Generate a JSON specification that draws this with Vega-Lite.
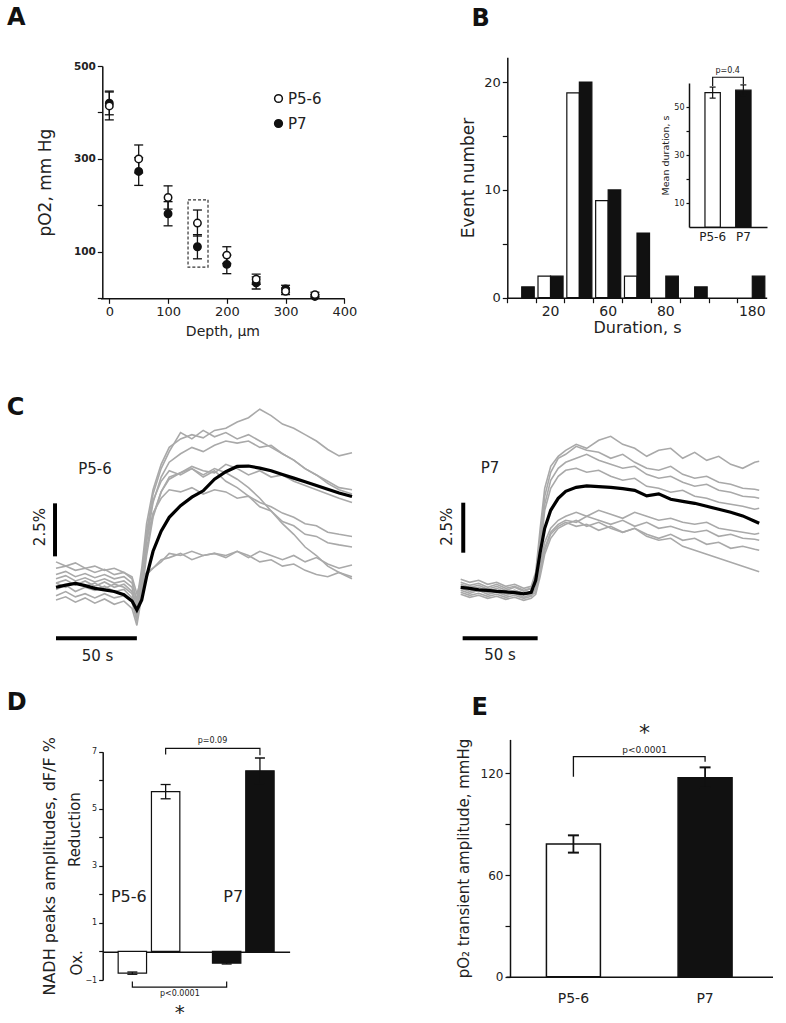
{
"$schema": "https://vega.github.io/schema/vega-lite/v6.json",
"width": 786, "height": 1023, "autosize": "none", "padding": 0, "background": "white",
"config": {
  "font": "DejaVu Sans",
  "view": {"stroke": null},
  "axis": {"grid": false, "domainColor": "#111", "tickColor": "#111", "labelColor": "#222", "titleColor": "#222", "titleFontWeight": "normal", "domainWidth": 1.5, "tickWidth": 1.2, "labelFont": "DejaVu Sans", "titleFont": "DejaVu Sans"},
  "text": {"color": "#222", "font": "DejaVu Sans"}
},
"datasets": {
  "pO2": [
    {"depth":0,"group":"P7","mean":420,"lo":395,"hi":444},
    {"depth":0,"group":"P5-6","mean":414,"lo":384,"hi":446},
    {"depth":50,"group":"P7","mean":273,"lo":243,"hi":303},
    {"depth":50,"group":"P5-6","mean":300,"lo":270,"hi":330},
    {"depth":100,"group":"P7","mean":182,"lo":156,"hi":208},
    {"depth":100,"group":"P5-6","mean":217,"lo":192,"hi":242},
    {"depth":150,"group":"P7","mean":111,"lo":85,"hi":137},
    {"depth":150,"group":"P5-6","mean":162,"lo":134,"hi":190},
    {"depth":200,"group":"P7","mean":73,"lo":53,"hi":93},
    {"depth":200,"group":"P5-6","mean":93,"lo":75,"hi":111},
    {"depth":250,"group":"P7","mean":33,"lo":20,"hi":46},
    {"depth":250,"group":"P5-6","mean":41,"lo":30,"hi":52},
    {"depth":300,"group":"P7","mean":20,"lo":12,"hi":28},
    {"depth":300,"group":"P5-6","mean":15,"lo":8,"hi":22},
    {"depth":350,"group":"P7","mean":4,"lo":0,"hi":8},
    {"depth":350,"group":"P5-6","mean":8,"lo":3,"hi":13}
  ],
  "hist": [
    {"bin":"10","grp":"P7","n":1},
    {"bin":"20","grp":"P5-6","n":2},{"bin":"20","grp":"P7","n":2},
    {"bin":"40","grp":"P5-6","n":19},{"bin":"40","grp":"P7","n":20},
    {"bin":"60","grp":"P5-6","n":9},{"bin":"60","grp":"P7","n":10},
    {"bin":"70","grp":"P5-6","n":2},{"bin":"70","grp":"P7","n":6},
    {"bin":"80","grp":"P7","n":2},
    {"bin":"100","grp":"P7","n":1},
    {"bin":"180","grp":"P7","n":2}
  ],
  "inset": [
    {"grp":"P5-6","val":56,"lo":53.7,"hi":58.3},
    {"grp":"P7","val":57,"lo":54.8,"hi":59.2}
  ],
  "insetBracket": [
    {"i":0,"grp":"P5-6","val":58.8},{"i":1,"grp":"P5-6","val":62.4},{"i":2,"grp":"P7","val":62.4},{"i":3,"grp":"P7","val":59.5}
  ],
  "c1": [
    {"t":0,"m":0,"g1":0.6,"g2":0.2,"g3":-0.1,"g4":-0.4,"g5":0.9,"g6":0.4,"g7":-0.6,"g8":0.2,"g9":1.2},
    {"t":6,"m":0.1,"g1":0.75,"g2":0.35,"g3":0.1,"g4":-0.2,"g5":1.0,"g6":0.55,"g7":-0.45,"g8":0.0,"g9":1.0},
    {"t":12,"m":0.18,"g1":0.5,"g2":0.1,"g3":-0.2,"g4":-0.45,"g5":0.8,"g6":0.3,"g7":-0.7,"g8":0.25,"g9":1.15},
    {"t":18,"m":0.08,"g1":0.65,"g2":0.3,"g3":0.0,"g4":-0.3,"g5":0.9,"g6":0.45,"g7":-0.5,"g8":0.05,"g9":0.9},
    {"t":24,"m":-0.05,"g1":0.45,"g2":0.05,"g3":-0.15,"g4":-0.5,"g5":0.7,"g6":0.25,"g7":-0.75,"g8":0.2,"g9":1.0},
    {"t":30,"m":-0.12,"g1":0.6,"g2":0.25,"g3":0.05,"g4":-0.3,"g5":0.85,"g6":0.4,"g7":-0.55,"g8":-0.05,"g9":0.8},
    {"t":36,"m":-0.2,"g1":0.4,"g2":0.0,"g3":-0.2,"g4":-0.5,"g5":0.6,"g6":0.2,"g7":-0.8,"g8":0.15,"g9":0.9},
    {"t":42,"m":-0.35,"g1":0.5,"g2":0.15,"g3":-0.1,"g4":-0.4,"g5":0.7,"g6":0.3,"g7":-0.65,"g8":0.0,"g9":0.7},
    {"t":47,"m":-0.65,"g1":0.2,"g2":-0.2,"g3":-0.5,"g4":-0.7,"g5":0.4,"g6":0.0,"g7":-1.0,"g8":-0.3,"g9":0.5},
    {"t":50,"m":-1.07,"g1":-0.6,"g2":-1.2,"g3":-1.4,"g4":-1.6,"g5":-0.8,"g6":-1.0,"g7":-1.8,"g8":-1.2,"g9":-0.3},
    {"t":53,"m":-0.6,"g1":0.9,"g2":0.5,"g3":0.2,"g4":0.0,"g5":0.6,"g6":0.4,"g7":-0.4,"g8":0.0,"g9":0.4},
    {"t":56,"m":0.5,"g1":3.0,"g2":2.6,"g3":2.2,"g4":1.8,"g5":2.2,"g6":2.5,"g7":1.5,"g8":0.6,"g9":0.7},
    {"t":60,"m":1.7,"g1":4.6,"g2":4.4,"g3":4.0,"g4":3.4,"g5":3.5,"g6":4.1,"g7":3.3,"g8":0.9,"g9":0.9},
    {"t":65,"m":2.65,"g1":5.8,"g2":5.6,"g3":5.2,"g4":4.5,"g5":4.2,"g6":5.0,"g7":4.5,"g8":1.2,"g9":1.3},
    {"t":70,"m":3.3,"g1":6.6,"g2":6.4,"g3":5.9,"g4":5.1,"g5":4.6,"g6":5.5,"g7":5.2,"g8":1.6,"g9":1.4},
    {"t":77,"m":3.85,"g1":7.0,"g2":7.3,"g3":6.3,"g4":5.4,"g5":4.5,"g6":5.3,"g7":5.4,"g8":1.5,"g9":1.6},
    {"t":84,"m":4.25,"g1":7.2,"g2":7.0,"g3":6.6,"g4":5.7,"g5":4.7,"g6":5.6,"g7":5.6,"g8":1.7,"g9":1.3},
    {"t":91,"m":4.55,"g1":7.05,"g2":7.4,"g3":6.4,"g4":5.5,"g5":4.4,"g6":5.2,"g7":5.3,"g8":1.5,"g9":1.5},
    {"t":98,"m":5.1,"g1":7.4,"g2":7.1,"g3":6.7,"g4":5.4,"g5":4.6,"g6":5.5,"g7":5.6,"g8":1.6,"g9":1.6},
    {"t":105,"m":5.45,"g1":7.5,"g2":7.3,"g3":6.9,"g4":5.8,"g5":4.5,"g6":5.0,"g7":5.4,"g8":1.4,"g9":1.5},
    {"t":112,"m":5.7,"g1":7.8,"g2":7.0,"g3":6.8,"g4":5.6,"g5":4.2,"g6":4.7,"g7":5.1,"g8":1.7,"g9":1.7},
    {"t":119,"m":5.72,"g1":8.0,"g2":7.2,"g3":6.9,"g4":5.3,"g5":4.3,"g6":4.3,"g7":4.7,"g8":1.5,"g9":1.4},
    {"t":126,"m":5.62,"g1":8.4,"g2":6.9,"g3":6.6,"g4":5.5,"g5":4.0,"g6":3.8,"g7":4.2,"g8":1.2,"g9":1.7},
    {"t":133,"m":5.5,"g1":8.1,"g2":6.6,"g3":6.7,"g4":5.2,"g5":3.8,"g6":3.6,"g7":3.6,"g8":1.3,"g9":1.5},
    {"t":140,"m":5.32,"g1":7.7,"g2":6.3,"g3":6.3,"g4":5.3,"g5":3.5,"g6":3.1,"g7":3.0,"g8":1.0,"g9":1.3},
    {"t":147,"m":5.15,"g1":7.5,"g2":6.0,"g3":6.0,"g4":5.0,"g5":3.3,"g6":2.9,"g7":2.5,"g8":1.1,"g9":1.5},
    {"t":154,"m":4.98,"g1":7.2,"g2":5.6,"g3":5.6,"g4":4.8,"g5":3.0,"g6":2.5,"g7":1.9,"g8":0.8,"g9":1.2},
    {"t":161,"m":4.8,"g1":6.9,"g2":5.3,"g3":5.3,"g4":4.6,"g5":2.9,"g6":2.4,"g7":1.5,"g8":0.6,"g9":1.4},
    {"t":168,"m":4.62,"g1":6.5,"g2":5.0,"g3":4.9,"g4":4.4,"g5":2.6,"g6":2.1,"g7":1.0,"g8":0.5,"g9":1.1},
    {"t":175,"m":4.45,"g1":6.2,"g2":4.7,"g3":4.6,"g4":4.2,"g5":2.5,"g6":2.0,"g7":0.7,"g8":0.7,"g9":0.9},
    {"t":183,"m":4.28,"g1":6.35,"g2":4.6,"g3":4.4,"g4":4.0,"g5":2.4,"g6":1.9,"g7":0.5,"g8":0.4,"g9":1.05}
  ],
  "c2": [
    {"t":0,"m":0.05,"h1":0.45,"h2":0.2,"h3":0.0,"h4":-0.2,"h5":0.3,"h6":-0.1,"h7":0.1,"h8":-0.3},
    {"t":6,"m":0.0,"h1":0.3,"h2":0.05,"h3":-0.15,"h4":-0.35,"h5":0.15,"h6":-0.25,"h7":-0.05,"h8":-0.45},
    {"t":12,"m":-0.08,"h1":0.4,"h2":0.15,"h3":-0.05,"h4":-0.25,"h5":0.25,"h6":-0.1,"h7":0.05,"h8":-0.35},
    {"t":18,"m":-0.1,"h1":0.2,"h2":-0.05,"h3":-0.2,"h4":-0.4,"h5":0.05,"h6":-0.3,"h7":-0.15,"h8":-0.5},
    {"t":24,"m":-0.15,"h1":0.3,"h2":0.1,"h3":-0.1,"h4":-0.3,"h5":0.2,"h6":-0.2,"h7":0.0,"h8":-0.4},
    {"t":30,"m":-0.18,"h1":0.1,"h2":-0.1,"h3":-0.25,"h4":-0.45,"h5":0.0,"h6":-0.35,"h7":-0.2,"h8":-0.55},
    {"t":36,"m":-0.22,"h1":0.2,"h2":0.05,"h3":-0.1,"h4":-0.35,"h5":0.1,"h6":-0.25,"h7":-0.1,"h8":-0.45},
    {"t":42,"m":-0.28,"h1":0.0,"h2":-0.15,"h3":-0.3,"h4":-0.5,"h5":-0.1,"h6":-0.45,"h7":-0.25,"h8":-0.6},
    {"t":47,"m":-0.2,"h1":0.1,"h2":0.0,"h3":-0.15,"h4":-0.4,"h5":0.0,"h6":-0.3,"h7":-0.35,"h8":-0.5},
    {"t":50,"m":0.4,"h1":0.8,"h2":0.6,"h3":0.3,"h4":0.0,"h5":0.2,"h6":0.0,"h7":-0.2,"h8":-0.3},
    {"t":53,"m":1.8,"h1":3.0,"h2":2.6,"h3":2.2,"h4":1.8,"h5":1.2,"h6":1.0,"h7":0.8,"h8":0.6},
    {"t":56,"m":3.0,"h1":5.0,"h2":4.6,"h3":4.2,"h4":3.9,"h5":2.3,"h6":2.0,"h7":1.9,"h8":1.7},
    {"t":60,"m":3.9,"h1":6.1,"h2":5.8,"h3":5.4,"h4":5.0,"h5":3.0,"h6":2.8,"h7":2.7,"h8":2.5},
    {"t":65,"m":4.5,"h1":6.6,"h2":6.5,"h3":6.0,"h4":5.6,"h5":3.4,"h6":3.2,"h7":3.1,"h8":3.0},
    {"t":70,"m":4.85,"h1":6.9,"h2":6.7,"h3":6.3,"h4":5.9,"h5":3.6,"h6":3.4,"h7":3.3,"h8":3.2},
    {"t":77,"m":5.05,"h1":7.2,"h2":7.1,"h3":6.5,"h4":6.0,"h5":3.8,"h6":3.3,"h7":3.1,"h8":3.4},
    {"t":84,"m":5.12,"h1":7.0,"h2":6.9,"h3":6.7,"h4":5.8,"h5":3.6,"h6":3.6,"h7":3.2,"h8":3.1},
    {"t":92,"m":5.08,"h1":7.4,"h2":6.8,"h3":6.4,"h4":5.9,"h5":3.9,"h6":3.4,"h7":2.9,"h8":3.3},
    {"t":100,"m":5.05,"h1":7.6,"h2":6.5,"h3":6.2,"h4":5.6,"h5":3.7,"h6":3.2,"h7":3.1,"h8":3.0},
    {"t":108,"m":4.98,"h1":7.2,"h2":6.7,"h3":6.0,"h4":5.4,"h5":3.5,"h6":3.4,"h7":2.8,"h8":2.8},
    {"t":116,"m":4.9,"h1":7.0,"h2":6.3,"h3":6.1,"h4":5.5,"h5":3.8,"h6":3.1,"h7":3.0,"h8":3.0},
    {"t":124,"m":4.62,"h1":6.6,"h2":6.0,"h3":5.7,"h4":5.1,"h5":3.6,"h6":3.3,"h7":2.7,"h8":2.6},
    {"t":132,"m":4.72,"h1":6.9,"h2":5.9,"h3":5.5,"h4":5.0,"h5":3.4,"h6":3.0,"h7":2.5,"h8":2.4},
    {"t":140,"m":4.45,"h1":7.0,"h2":6.1,"h3":5.6,"h4":4.8,"h5":3.5,"h6":3.1,"h7":2.7,"h8":2.5},
    {"t":148,"m":4.35,"h1":6.5,"h2":5.7,"h3":5.3,"h4":4.9,"h5":3.3,"h6":2.9,"h7":2.4,"h8":2.1},
    {"t":156,"m":4.25,"h1":6.8,"h2":5.5,"h3":5.1,"h4":4.6,"h5":3.2,"h6":2.8,"h7":2.5,"h8":1.9},
    {"t":164,"m":4.1,"h1":6.4,"h2":5.6,"h3":5.2,"h4":4.5,"h5":3.3,"h6":2.9,"h7":2.2,"h8":1.7},
    {"t":172,"m":3.95,"h1":6.6,"h2":5.3,"h3":4.9,"h4":4.3,"h5":3.0,"h6":2.6,"h7":2.3,"h8":1.5},
    {"t":180,"m":3.8,"h1":6.2,"h2":5.2,"h3":4.8,"h4":4.2,"h5":2.9,"h6":2.7,"h7":2.0,"h8":1.3},
    {"t":188,"m":3.62,"h1":6.0,"h2":5.0,"h3":4.6,"h4":4.1,"h5":2.8,"h6":2.5,"h7":2.1,"h8":1.1},
    {"t":196,"m":3.35,"h1":6.3,"h2":4.95,"h3":4.55,"h4":3.95,"h5":2.7,"h6":2.45,"h7":1.95,"h8":0.9},
    {"t":199,"m":3.25,"h1":6.35,"h2":4.9,"h3":4.5,"h4":4.0,"h5":2.75,"h6":2.4,"h7":1.9,"h8":0.83}
  ],
  "nadh": [
    {"grp":"P5-6","kind":"Ox","val":-0.76,"lo":-0.8,"hi":-0.72},
    {"grp":"P5-6","kind":"Red","val":5.6,"lo":5.35,"hi":5.85},
    {"grp":"P7","kind":"Ox","val":-0.41,"lo":-0.44,"hi":-0.38},
    {"grp":"P7","kind":"Red","val":6.33,"lo":5.88,"hi":6.78}
  ],
  "nadhBracket": [
    {"b":"top","i":0,"grp":"P5-6","kind":"Red","val":6.9},
    {"b":"top","i":1,"grp":"P5-6","kind":"Red","val":7.12},
    {"b":"top","i":2,"grp":"P7","kind":"Red","val":7.12},
    {"b":"top","i":3,"grp":"P7","kind":"Red","val":6.88},
    {"b":"bot","i":0,"grp":"P5-6","kind":"Ox","val":-1.05},
    {"b":"bot","i":1,"grp":"P5-6","kind":"Ox","val":-1.25},
    {"b":"bot","i":2,"grp":"P7","kind":"Ox","val":-1.25},
    {"b":"bot","i":3,"grp":"P7","kind":"Ox","val":-1.05}
  ],
  "amp": [
    {"grp":"P5-6","val":78.3,"lo":73.2,"hi":83.4},
    {"grp":"P7","val":117.4,"lo":111.5,"hi":123.5}
  ],
  "ampBracket": [
    {"i":0,"grp":"P5-6","val":118},{"i":1,"grp":"P5-6","val":129.8},{"i":2,"grp":"P7","val":129.8},{"i":3,"grp":"P7","val":126.8}
  ],
  "letters": [
    {"letter":"A","fx":0.009,"fy":0.0176},
    {"letter":"B","fx":0.6,"fy":0.0186},
    {"letter":"C","fx":0.0085,"fy":0.3988},
    {"letter":"D","fx":0.0085,"fy":0.6872},
    {"letter":"E","fx":0.6,"fy":0.6916}
  ]
},
"layer": [
  {
    "data": {"name": "pO2"},
    "encoding": {
      "x": {"field":"depth","type":"quantitative","scale":{"domain":[-15,400],"range":[100.5,344.3],"nice":false,"zero":false},
            "axis":{"orient":"bottom","offset":-724.7,"values":[0,100,200,300,400],"title":"Depth, μm","titleFontSize":14,"titlePadding":6,"labelFontSize":13,"labelFlush":false,"tickSize":5,"labelPadding":2}},
      "y": {"field":"mean","type":"quantitative","scale":{"domain":[0,500],"range":[298.3,66],"nice":false,"zero":false},
            "axis":{"orient":"left","offset":-102.3,"values":[0,100,200,300,400,500],"labelExpr":"datum.value % 200 == 100 ? datum.label : ''","title":"pO2, mm Hg","titleFontSize":17,"titlePadding":19,"labelFontSize":10.5,"labelFontWeight":"bold","tickSize":5}}
    },
    "layer": [
      {"mark":{"type":"rule","color":"#111","strokeWidth":1.3},
       "encoding":{"y":{"field":"lo","type":"quantitative"},"y2":{"field":"hi"}}},
      {"mark":{"type":"tick","orient":"horizontal","size":9,"thickness":1.3,"color":"#111","opacity":1},
       "encoding":{"y":{"field":"lo","type":"quantitative"}}},
      {"mark":{"type":"tick","orient":"horizontal","size":9,"thickness":1.3,"color":"#111","opacity":1},
       "encoding":{"y":{"field":"hi","type":"quantitative"}}},
      {"mark":{"type":"point","filled":true,"size":55,"stroke":"#111","strokeWidth":1.5,"opacity":1},
       "encoding":{"fill":{"field":"group","type":"nominal","scale":{"domain":["P5-6","P7"],"range":["white","#111"]},
         "legend":{"orient":"none","legendX":271,"legendY":91,"title":null,"labelFontSize":15,"labelColor":"#222","symbolType":"circle","symbolSize":60,"symbolStrokeColor":"#111","symbolStrokeWidth":1.5,"rowPadding":9,"labelOffset":2}}}},
      {"data":{"values":[{"x1":134,"x2":168,"y1":67,"y2":212}]},
       "mark":{"type":"rect","fill":null,"stroke":"#333","strokeDash":[3,2],"strokeWidth":1.2},
       "encoding":{"x":{"field":"x1","type":"quantitative"},"x2":{"field":"x2"},"y":{"field":"y1","type":"quantitative"},"y2":{"field":"y2"}}}
    ]
  },
  {
    "data": {"name": "hist"},
    "mark": {"type":"bar","stroke":"#111","strokeWidth":1.2},
    "encoding": {
      "x": {"field":"bin","type":"ordinal","scale":{"domain":["10","20","40","60","70","80","100","140","180"],"range":[507.3,766.7],"paddingInner":0,"paddingOuter":0},
            "axis":{"orient":"bottom","offset":-725.3,"bandPosition":0,"labelAngle":0,"labelExpr":"indexof(['20','60','80','180'], datum.value) >= 0 ? datum.value : ''","title":"Duration, s","titleFontSize":16,"titlePadding":1,"labelFontSize":14,"tickSize":5,"labelPadding":2}},
      "xOffset": {"field":"grp","type":"nominal","scale":{"domain":["P5-6","P7"],"paddingInner":0,"paddingOuter":0.15}},
      "y": {"field":"n","type":"quantitative","scale":{"domain":[0,22.3],"range":[297.7,57.3],"nice":false,"zero":false},
            "axis":{"orient":"left","offset":-507.3,"values":[0,5,10,15,20],"labelExpr":"datum.value % 10 == 0 ? datum.label : ''","title":"Event number","titleFontSize":17,"titlePadding":6,"labelFontSize":13,"tickSize":5}},
      "fill": {"field":"grp","type":"nominal","scale":{"domain":["P5-6","P7"],"range":["white","#111"]},"legend":null}
    }
  },
  {
    "data": {"name": "inset"},
    "encoding": {
      "x": {"field":"grp","type":"nominal","scale":{"domain":["P5-6","P7"],"range":[689,767],"paddingInner":0.5,"paddingOuter":0.52},
            "axis":{"orient":"bottom","offset":-796,"title":null,"labelAngle":0,"ticks":false,"labelFontSize":12,"labelPadding":4}},
      "y": {"field":"val","type":"quantitative","scale":{"domain":[0,60],"range":[227,83],"nice":false,"zero":false},
            "axis":{"orient":"left","offset":-689,"values":[10,20,30,40,50],"labelExpr":"datum.value % 20 == 10 ? datum.label : ''","title":"Mean duration, s","titleFontSize":9.5,"titlePadding":3,"labelFontSize":8,"tickSize":3}}
    },
    "layer": [
      {"mark":{"type":"bar","stroke":"#111","strokeWidth":1.2},
       "encoding":{"fill":{"field":"grp","type":"nominal","scale":{"domain":["P5-6","P7"],"range":["white","#111"]},"legend":null}}},
      {"mark":{"type":"rule","color":"#111","strokeWidth":1.2},
       "encoding":{"y":{"field":"lo","type":"quantitative"},"y2":{"field":"hi"}}},
      {"mark":{"type":"tick","orient":"horizontal","size":6,"thickness":1.2,"color":"#111","opacity":1},
       "encoding":{"y":{"field":"lo","type":"quantitative"}}},
      {"mark":{"type":"tick","orient":"horizontal","size":6,"thickness":1.2,"color":"#111","opacity":1},
       "encoding":{"y":{"field":"hi","type":"quantitative"}}},
      {"data":{"name":"insetBracket"},
       "mark":{"type":"line","color":"#111","strokeWidth":1.2},
       "encoding":{"order":{"field":"i"}}},
      {"data":{"values":[{"grp":"P5-6","val":64.8,"label":"p=0.4"}]},
       "mark":{"type":"text","fontSize":8,"dx":15},
       "encoding":{"text":{"field":"label"}}}
    ]
  },
  {
    "data": {"name": "c1"},
    "encoding": {
      "x": {"field":"t","type":"quantitative","scale":{"domain":[0,183],"range":[56,352],"nice":false,"zero":false},"axis":null},
      "y": {"field":"v","type":"quantitative","scale":{"domain":[-3.5,9],"range":[661.5,396.5],"nice":false,"zero":false},"axis":null}
    },
    "layer": [
      {"transform":[{"fold":["g1","g2","g3","g4","g5","g6","g7","g8","g9"],"as":["trace","v"]}],
       "mark":{"type":"line","color":"#a9a9a9","strokeWidth":1.6},
       "encoding":{"detail":{"field":"trace"}}},
      {"transform":[{"fold":["m"],"as":["trace","v"]}],
       "mark":{"type":"line","color":"#000","strokeWidth":3.2},
       "encoding":{"detail":{"field":"trace"}}},
      {"data":{"values":[{"t":-0.6,"v":1.46,"t2":-0.6,"v2":3.96},{"t":0,"v":-2.4,"t2":50,"v2":-2.4}]},
       "mark":{"type":"rule","color":"#000","strokeWidth":4},
       "encoding":{"x2":{"field":"t2"},"y2":{"field":"v2"}}},
      {"data":{"values":[{"t":25.7,"v":-3.25,"label":"50 s"},{"t":24.1,"v":5.6,"label":"P5-6"}]},
       "mark":{"type":"text","fontSize":15,"baseline":"middle"},
       "encoding":{"text":{"field":"label"}}},
      {"data":{"values":[{"t":-9.9,"v":2.84,"label":"2.5%"}]},
       "mark":{"type":"text","fontSize":15,"angle":270,"baseline":"middle"},
       "encoding":{"text":{"field":"label"}}}
    ]
  },
  {
    "data": {"name": "c2"},
    "encoding": {
      "x": {"field":"t","type":"quantitative","scale":{"domain":[0,199],"range":[460.7,759.2],"nice":false,"zero":false},"axis":null},
      "y": {"field":"v","type":"quantitative","scale":{"domain":[-3.5,9],"range":[658.3,408.3],"nice":false,"zero":false},"axis":null}
    },
    "layer": [
      {"transform":[{"fold":["h1","h2","h3","h4","h5","h6","h7","h8"],"as":["trace","v"]}],
       "mark":{"type":"line","color":"#a9a9a9","strokeWidth":1.6},
       "encoding":{"detail":{"field":"trace"}}},
      {"transform":[{"fold":["m"],"as":["trace","v"]}],
       "mark":{"type":"line","color":"#000","strokeWidth":3.2},
       "encoding":{"detail":{"field":"trace"}}},
      {"data":{"values":[{"t":1.7,"v":1.78,"t2":1.7,"v2":4.28},{"t":1.3,"v":-2.5,"t2":51.3,"v2":-2.5}]},
       "mark":{"type":"rule","color":"#000","strokeWidth":4},
       "encoding":{"x2":{"field":"t2"},"y2":{"field":"v2"}}},
      {"data":{"values":[{"t":26.2,"v":-3.33,"label":"50 s"},{"t":19.5,"v":6.0,"label":"P7"}]},
       "mark":{"type":"text","fontSize":15,"baseline":"middle"},
       "encoding":{"text":{"field":"label"}}},
      {"data":{"values":[{"t":-9.3,"v":3.08,"label":"2.5%"}]},
       "mark":{"type":"text","fontSize":15,"angle":270,"baseline":"middle"},
       "encoding":{"text":{"field":"label"}}}
    ]
  },
  {
    "data": {"name": "nadh"},
    "encoding": {
      "x": {"field":"grp","type":"nominal","scale":{"domain":["P5-6","P7"],"range":[102.7,289.6],"paddingInner":0.346,"paddingOuter":0.164},
            "axis":{"orient":"bottom","offset":-71.3,"title":null,"labels":false,"ticks":false}},
      "y": {"field":"val","type":"quantitative","scale":{"domain":[-1,7],"range":[980,751.7],"nice":false,"zero":false},
            "axis":{"orient":"left","offset":-102.7,"values":[-1,0,1,2,3,4,5,6,7],"labelExpr":"abs(datum.value % 2) == 1 ? datum.label : ''","title":"NADH peaks amplitudes, dF/F %","titleFontSize":16,"titlePadding":27,"labelFontSize":8,"tickSize":4}}
    },
    "layer": [
      {"mark":{"type":"bar","stroke":"#111","strokeWidth":1.2},
       "encoding":{"xOffset":{"field":"kind","type":"nominal","scale":{"domain":["Ox","Red"],"paddingInner":0.147,"paddingOuter":0}},
                   "fill":{"field":"grp","type":"nominal","scale":{"domain":["P5-6","P7"],"range":["white","#111"]},"legend":null}}},
      {"mark":{"type":"rule","color":"#111","strokeWidth":1.3},
       "encoding":{"xOffset":{"field":"kind","type":"nominal"},"y":{"field":"lo","type":"quantitative"},"y2":{"field":"hi"}}},
      {"mark":{"type":"tick","orient":"horizontal","size":10,"thickness":1.3,"color":"#111","opacity":1},
       "encoding":{"xOffset":{"field":"kind","type":"nominal"},"y":{"field":"lo","type":"quantitative"}}},
      {"mark":{"type":"tick","orient":"horizontal","size":10,"thickness":1.3,"color":"#111","opacity":1},
       "encoding":{"xOffset":{"field":"kind","type":"nominal"},"y":{"field":"hi","type":"quantitative"}}},
      {"data":{"name":"nadhBracket"},
       "mark":{"type":"line","color":"#111","strokeWidth":1.2},
       "encoding":{"xOffset":{"field":"kind","type":"nominal"},"detail":{"field":"b"},"order":{"field":"i"}}},
      {"data":{"values":[{"grp":"P5-6","kind":"Ox","val":4.27,"label":"Reduction"}]},
       "mark":{"type":"text","fontSize":15,"angle":270,"baseline":"middle","dy":-57.5},
       "encoding":{"xOffset":{"field":"kind","type":"nominal"},"text":{"field":"label"}}},
      {"data":{"values":[{"grp":"P5-6","kind":"Ox","val":-0.4,"label":"Ox."}]},
       "mark":{"type":"text","fontSize":15,"angle":270,"baseline":"middle","dy":-55.5},
       "encoding":{"xOffset":{"field":"kind","type":"nominal"},"text":{"field":"label"}}},
      {"data":{"values":[{"grp":"P5-6","kind":"Ox","val":1.92,"label":"P5-6"}]},
       "mark":{"type":"text","fontSize":16,"baseline":"middle","dx":-3.5},
       "encoding":{"xOffset":{"field":"kind","type":"nominal"},"text":{"field":"label"}}},
      {"data":{"values":[{"grp":"P7","kind":"Ox","val":1.92,"label":"P7"}]},
       "mark":{"type":"text","fontSize":16,"baseline":"middle","dx":6.5},
       "encoding":{"xOffset":{"field":"kind","type":"nominal"},"text":{"field":"label"}}},
      {"data":{"values":[{"grp":"P7","val":7.36,"label":"p=0.09"}]},
       "mark":{"type":"text","fontSize":8,"baseline":"middle"},
       "encoding":{"x":{"field":"grp","type":"nominal","bandPosition":0},"text":{"field":"label"}}},
      {"data":{"values":[{"grp":"P5-6","val":-1.5,"label":"p<0.0001"}]},
       "mark":{"type":"text","fontSize":8,"baseline":"middle"},
       "encoding":{"x":{"field":"grp","type":"nominal","bandPosition":1},"text":{"field":"label"}}},
      {"data":{"values":[{"grp":"P5-6","val":-2.35,"label":"*"}]},
       "mark":{"type":"text","fontSize":20,"baseline":"alphabetic"},
       "encoding":{"x":{"field":"grp","type":"nominal","bandPosition":1},"text":{"field":"label"}}}
    ]
  },
  {
    "data": {"name": "amp"},
    "encoding": {
      "x": {"field":"grp","type":"nominal","scale":{"domain":["P5-6","P7"],"range":[506,772.5],"paddingInner":0.59,"paddingOuter":0.307},
            "axis":{"orient":"bottom","offset":-46.3,"title":null,"labelAngle":0,"ticks":false,"labelFontSize":14,"labelPadding":15}},
      "y": {"field":"val","type":"quantitative","scale":{"domain":[0,140],"range":[976.7,739.4],"nice":false,"zero":false},
            "axis":{"orient":"left","offset":-510,"values":[0,30,60,90,120],"labelExpr":"datum.value % 60 == 0 ? datum.label : ''","title":"pO₂ transient amplitude, mmHg","titleFontSize":15,"titlePadding":9,"labelFontSize":12,"tickSize":5}}
    },
    "layer": [
      {"mark":{"type":"bar","stroke":"#111","strokeWidth":1.5},
       "encoding":{"fill":{"field":"grp","type":"nominal","scale":{"domain":["P5-6","P7"],"range":["white","#111"]},"legend":null}}},
      {"mark":{"type":"rule","color":"#111","strokeWidth":1.8},
       "encoding":{"y":{"field":"lo","type":"quantitative"},"y2":{"field":"hi"}}},
      {"mark":{"type":"tick","orient":"horizontal","size":11,"thickness":2,"color":"#111","opacity":1},
       "encoding":{"y":{"field":"lo","type":"quantitative"}}},
      {"mark":{"type":"tick","orient":"horizontal","size":11,"thickness":2,"color":"#111","opacity":1},
       "encoding":{"y":{"field":"hi","type":"quantitative"}}},
      {"data":{"name":"ampBracket"},
       "mark":{"type":"line","color":"#111","strokeWidth":1.3},
       "encoding":{"order":{"field":"i"}}},
      {"data":{"values":[{"grp":"P7","val":134.0,"label":"p<0.0001"}]},
       "mark":{"type":"text","fontSize":9,"baseline":"middle","dx":-60.5},
       "encoding":{"text":{"field":"label"}}},
      {"data":{"values":[{"grp":"P7","val":139.5,"label":"*"}]},
       "mark":{"type":"text","fontSize":22,"baseline":"alphabetic","dx":-60.5},
       "encoding":{"text":{"field":"label"}}}
    ]
  },
  {
    "data": {"name": "letters"},
    "mark": {"type":"text","fontSize":24,"fontWeight":"bold","align":"left","baseline":"middle","color":"#111"},
    "encoding": {
      "x": {"field":"fx","type":"quantitative","scale":{"domain":[0,1],"range":[0,786],"nice":false,"zero":false},"axis":null},
      "y": {"field":"fy","type":"quantitative","scale":{"domain":[0,1],"range":[0,1023],"nice":false,"zero":false},"axis":null},
      "text": {"field":"letter"}
    }
  }
],
"resolve": {
  "scale": {"x":"independent","y":"independent","fill":"independent","xOffset":"independent"},
  "axis": {"x":"independent","y":"independent"},
  "legend": {"fill":"independent"}
}
}
